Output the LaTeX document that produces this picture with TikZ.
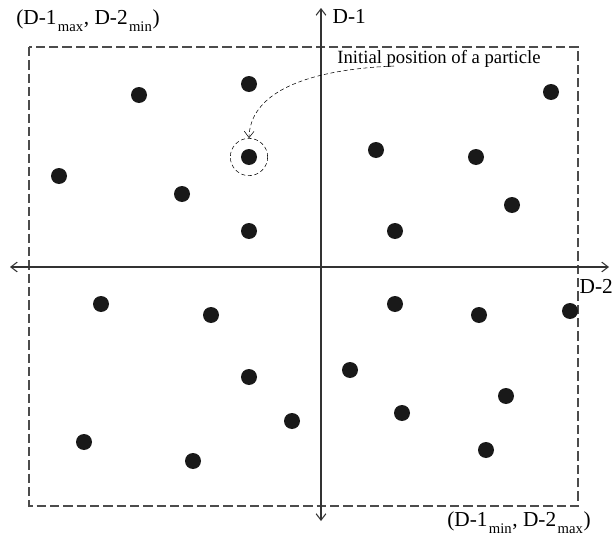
\documentclass[tikz,border=0pt]{standalone}
\usepackage{fontspec}
\setmainfont{Liberation Serif}
\usetikzlibrary{arrows.meta,positioning}
\newcommand{\lowsub}[1]{\kern1pt\raisebox{-5.5pt}{\fontsize{11}{11}\selectfont #1}\kern0.5pt}

\begin{document}
\begin{tikzpicture}[x=0.75pt,y=-0.75pt,>={Straight Barb[angle=75:6pt]},
  particle/.style={circle,fill=black!90,inner sep=0pt,minimum size=12pt},
  axis/.style={<->,line width=0.8pt,black!80},
  bound/.style={black!70,line width=0.8pt,dash pattern=on 7pt off 3pt},
  lbl/.style={font=\fontsize{16}{18}\selectfont,inner sep=1pt}]
\useasboundingbox (0,0) rectangle (612,539);
% search space
\draw[bound] (29,47) rectangle (578,506);
% axes
\coordinate (ytop) at (321,8);
\coordinate (ybot) at (321,521);
\coordinate (xleft) at (10,267);
\coordinate (xright) at (609,267);
\draw[axis] (ybot)--(ytop);
\draw[axis] (xleft)--(xright);
\node[lbl,anchor=west] (d1) at (331,16) {D-1};
\node[lbl,anchor=west] (d2) at (578,286) {D-2};
\node[lbl] (cmax) at (88,21) {(D-1\lowsub{max}, D-2\lowsub{min})};
\node[lbl] (cmin) at (519,523) {(D-1\lowsub{min}, D-2\lowsub{max})};
% particles
\foreach \px/\py [count=\i] in {139/95,249/84,551/92,59/176,376/150,476/157,182/194,512/205,
  249/231,395/231,101/304,211/315,395/304,479/315,570/311,249/377,350/370,506/396,
  292/421,402/413,84/442,193/461,486/450}
  \node[particle] (p\i) at (\px,\py) {};
% initial particle
\node[particle] (p0) at (249,157) {};
\node[circle,draw,densely dashed,thin,minimum size=28pt,inner sep=0pt] (init) at (p0) {};
\node[lbl,font=\fontsize{14}{16}\selectfont] (note) at (439,59) {Initial position of a particle};
\draw[->,densely dashed,thin] (394,66) .. controls (300,70) and (250,95) .. (init.north);
\end{tikzpicture}
\end{document}
